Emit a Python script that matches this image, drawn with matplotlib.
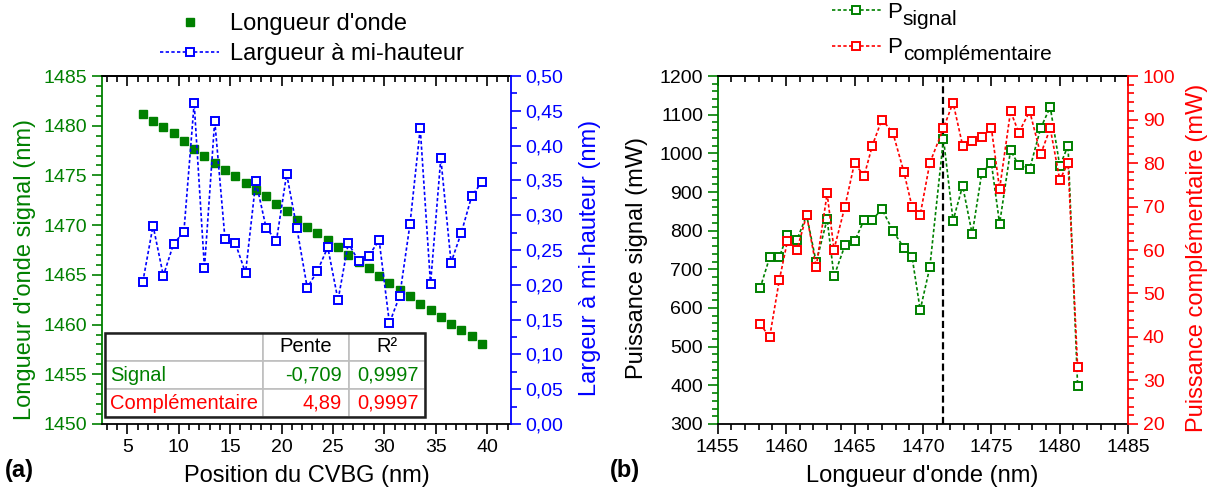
import matplotlib
matplotlib.use('Agg')
import matplotlib.pyplot as plt
from matplotlib.ticker import MultipleLocator, FuncFormatter
from matplotlib.lines import Line2D
from matplotlib.patches import Rectangle

plt.rcParams['font.family'] = ['Liberation Sans', 'DejaVu Sans']
plt.rcParams['mathtext.fontset'] = 'custom'
plt.rcParams['mathtext.rm'] = 'Liberation Sans'

GREEN = '#008000'
BLUE = '#0000FF'
RED = '#FF0000'

# ---------------- data, panel (a) ----------------
position_nm = [6.5, 7.5, 8.5, 9.5, 10.5, 11.5, 12.5, 13.5, 14.5, 15.5, 16.5, 17.5,
               18.5, 19.5, 20.5, 21.5, 22.5, 23.5, 24.5, 25.5, 26.5, 27.5, 28.5,
               29.5, 30.5, 31.5, 32.5, 33.5, 34.5, 35.5, 36.5, 37.5, 38.5, 39.5]
wavelength_signal = [1481.2, 1480.5, 1479.9, 1479.3, 1478.5, 1477.7, 1477.0, 1476.3,
                     1475.5, 1474.9, 1474.2, 1473.5, 1472.9, 1472.1, 1471.4, 1470.5,
                     1469.8, 1469.2, 1468.5, 1467.8, 1467.0, 1466.3, 1465.7, 1464.9,
                     1464.2, 1463.5, 1462.9, 1462.1, 1461.5, 1460.8, 1460.1, 1459.5,
                     1458.8, 1458.0]
fwhm = [0.204, 0.285, 0.213, 0.259, 0.276, 0.461, 0.224, 0.436, 0.266, 0.260, 0.217,
        0.349, 0.282, 0.263, 0.359, 0.281, 0.196, 0.220, 0.254, 0.178, 0.260, 0.234,
        0.242, 0.264, 0.145, 0.184, 0.287, 0.425, 0.201, 0.382, 0.232, 0.275, 0.327,
        0.348]

table_header = ['', 'Pente', 'R²']
table_rows = [['Signal', '-0,709', '0,9997'],
              ['Complémentaire', '4,89', '0,9997']]

# ---------------- data, panel (b) ----------------
wavelength_b = [1458.1, 1458.8, 1459.5, 1460.1, 1460.8, 1461.5, 1462.2, 1463.0, 1463.5,
                1464.3, 1465.0, 1465.7, 1466.3, 1467.0, 1467.8, 1468.6, 1469.2, 1469.8,
                1470.5, 1471.5, 1472.2, 1472.9, 1473.6, 1474.3, 1475.0, 1475.6, 1476.4,
                1477.0, 1477.8, 1478.6, 1479.3, 1480.0, 1480.6, 1481.3]
p_signal = [651, 731, 731, 790, 777, 840, 718, 830, 682, 762, 772, 828, 828, 856, 800,
            756, 733, 595, 705, 1038, 826, 916, 791, 950, 975, 818, 1008, 969, 960, 1065,
            1120, 967, 1020, 399]
p_compl = [43.0, 40.0, 53.0, 62.1, 60.1, 68.0, 56.1, 73.0, 60.1, 70.0, 80.0, 77.0, 84.0,
           90.0, 87.0, 78.0, 70.0, 68.1, 80.0, 88.0, 93.9, 84.0, 85.0, 86.0, 88.0, 74.0,
           91.9, 87.0, 91.9, 82.0, 88.0, 76.1, 80.0, 33.1]
lambda_marker = 1471.45

comma = FuncFormatter(lambda v, p: ('%.2f' % v).replace('.', ','))

TICK_FS = 14
LABEL_FS = 17

fig = plt.figure(figsize=(12.09, 4.93), dpi=100)
ax1 = fig.add_axes([0.0841, 0.1400, 0.3383, 0.7058])
ax2 = fig.add_axes([0.5936, 0.1400, 0.3396, 0.7058])

dash = (0, (2.0, 1.4))

# ---------- panel (a) ----------
ax1.plot(position_nm, wavelength_signal, ls='none', marker='s', ms=6.2,
         color=GREEN, mec=GREEN, zorder=2)
ax1.set_xlim(2.5, 42.3)
ax1.set_ylim(1450, 1485)
ax1r = ax1.twinx()
ax1r.plot(position_nm, fwhm, ls=dash, lw=1.2, color=BLUE, marker='s', ms=6,
          mfc='white', mec=BLUE, mew=1.4, zorder=3)
ax1r.set_ylim(0, 0.5)

ax1.spines['left'].set_color(GREEN)
ax1.spines['right'].set_visible(False)
ax1r.spines['right'].set_color(BLUE)
for s in ('left', 'top', 'bottom'):
    ax1r.spines[s].set_visible(False)
for a in (ax1, ax1r):
    for s in a.spines.values():
        s.set_linewidth(1.3)

ax1.xaxis.set_major_locator(MultipleLocator(5))
ax1.xaxis.set_minor_locator(MultipleLocator(1))
ax1.yaxis.set_major_locator(MultipleLocator(5))
ax1.yaxis.set_minor_locator(MultipleLocator(1))
ax1r.yaxis.set_major_locator(MultipleLocator(0.05))
ax1r.yaxis.set_minor_locator(MultipleLocator(0.025))
ax1r.yaxis.set_major_formatter(comma)

ax1.tick_params(axis='x', which='both', direction='out', top=False, labelsize=TICK_FS, width=1.2)
ax1.tick_params(axis='x', which='major', length=7)
ax1.tick_params(axis='x', which='minor', length=4)
ax1.tick_params(axis='y', which='both', direction='out', colors=GREEN, labelsize=TICK_FS,
                right=False, width=1.2)
ax1.tick_params(axis='y', which='major', length=7)
ax1.tick_params(axis='y', which='minor', length=4)
ax1r.tick_params(axis='y', which='both', direction='out', colors=BLUE, labelsize=TICK_FS, width=1.2)
ax1r.tick_params(axis='y', which='major', length=7)
ax1r.tick_params(axis='y', which='minor', length=4)

top1 = ax1.secondary_xaxis('top')
top1.xaxis.set_major_locator(MultipleLocator(5))
top1.xaxis.set_minor_locator(MultipleLocator(1))
top1.tick_params(axis='x', which='both', direction='in', labeltop=False, width=1.2)
top1.tick_params(axis='x', which='major', length=7)
top1.tick_params(axis='x', which='minor', length=4)
top1.spines['top'].set_linewidth(1.3)

ax1.set_xlabel('Position du CVBG (nm)', fontsize=LABEL_FS, va='center')
ax1.xaxis.set_label_coords(0.501, -0.149)
ax1.set_ylabel("Longueur d'onde signal (nm)", fontsize=LABEL_FS, color=GREEN, va='center')
ax1.yaxis.set_label_coords(-0.188, 0.443)
ax1r.set_ylabel('Largeur à mi-hauteur (nm)', fontsize=LABEL_FS, color=BLUE, va='center',
                rotation=90)
ax1r.yaxis.set_label_coords(1.194, 0.477)

# table
cell_text = [table_header] + table_rows
tbl = ax1r.table(cellText=cell_text, colWidths=[0.4947, 0.2688, 0.2366],
                 bbox=[0.008, 0.019, 0.782, 0.243], cellLoc='right')
tbl.auto_set_font_size(False)
tbl.set_fontsize(14.5)
tbl.set_zorder(6)
row_colors = ['black', GREEN, RED]
for (r, c), cell in tbl.get_celld().items():
    cell.set_edgecolor('#BFBFBF')
    cell.set_linewidth(1.2)
    cell.set_facecolor('white')
    txt = cell.get_text()
    txt.set_color(row_colors[r])
    if r == 0:
        cell._loc = 'center'
        txt.set_ha('center')
    elif c == 0:
        cell._loc = 'left'
        cell.PAD = 0.035
        txt.set_ha('left')
    else:
        cell.PAD = 0.08
ax1r.add_patch(Rectangle((0.008, 0.019), 0.782, 0.243, transform=ax1r.transAxes,
                         fill=False, ec='#202020', lw=1.8, zorder=7, clip_on=False))

h_wl = Line2D([], [], ls='none', marker='s', ms=6.2, color=GREEN, mec=GREEN)
h_fw = Line2D([], [], ls=dash, lw=1.2, color=BLUE, marker='s', ms=6, mfc='white',
              mec=BLUE, mew=1.4)
fig.legend([h_wl, h_fw], ["Longueur d'onde", 'Largueur à mi-hauteur'],
           loc='upper left', bbox_to_anchor=(160 / 1209, 1 - 13 / 493), frameon=False,
           fontsize=17, handlelength=2.5, handletextpad=0.45, labelspacing=0.35,
           borderpad=0, borderaxespad=0)

# ---------- panel (b) ----------
ax2.plot(wavelength_b, p_signal, ls=dash, lw=1.2, color=GREEN, marker='s', ms=6.2,
         mfc='white', mec=GREEN, mew=1.4, zorder=3)
ax2.set_xlim(1455, 1485)
ax2.set_ylim(300, 1200)
ax2.axvline(lambda_marker, color='black', ls=(0, (3.2, 1.6)), lw=1.6, zorder=2)
ax2r = ax2.twinx()
ax2r.plot(wavelength_b, p_compl, ls=dash, lw=1.2, color=RED, marker='s', ms=6.2,
          mfc='white', mec=RED, mew=1.4, zorder=3)
ax2r.set_ylim(20, 100)

ax2.spines['left'].set_color(GREEN)
ax2.spines['right'].set_visible(False)
ax2r.spines['right'].set_color(RED)
for s in ('left', 'top', 'bottom'):
    ax2r.spines[s].set_visible(False)
for a in (ax2, ax2r):
    for s in a.spines.values():
        s.set_linewidth(1.3)

ax2.xaxis.set_major_locator(MultipleLocator(5))
ax2.xaxis.set_minor_locator(MultipleLocator(1))
ax2.yaxis.set_major_locator(MultipleLocator(100))
ax2.yaxis.set_minor_locator(MultipleLocator(20))
ax2r.yaxis.set_major_locator(MultipleLocator(10))
ax2r.yaxis.set_minor_locator(MultipleLocator(2))

ax2.tick_params(axis='x', which='both', direction='out', top=False, labelsize=TICK_FS, width=1.2)
ax2.tick_params(axis='x', which='major', length=7)
ax2.tick_params(axis='x', which='minor', length=4)
ax2.tick_params(axis='y', which='both', direction='out', color=GREEN, labelcolor='black',
                labelsize=TICK_FS, right=False, width=1.2)
ax2.tick_params(axis='y', which='major', length=7)
ax2.tick_params(axis='y', which='minor', length=4)
ax2r.tick_params(axis='y', which='both', direction='out', colors=RED, labelsize=TICK_FS, width=1.2)
ax2r.tick_params(axis='y', which='major', length=7)
ax2r.tick_params(axis='y', which='minor', length=4)

top2 = ax2.secondary_xaxis('top')
top2.xaxis.set_major_locator(MultipleLocator(5))
top2.xaxis.set_minor_locator(MultipleLocator(1))
top2.tick_params(axis='x', which='both', direction='in', labeltop=False, width=1.2)
top2.tick_params(axis='x', which='major', length=7)
top2.tick_params(axis='x', which='minor', length=4)
top2.spines['top'].set_linewidth(1.3)

ax2.set_xlabel("Longueur d'onde (nm)", fontsize=LABEL_FS, va='center')
ax2.xaxis.set_label_coords(0.499, -0.149)
ax2.set_ylabel('Puissance signal (mW)', fontsize=LABEL_FS, color='black', va='center')
ax2.yaxis.set_label_coords(-0.197, 0.477)
ax2r.set_ylabel('Puissance complémentaire (mW)', fontsize=LABEL_FS, color=RED, va='center',
                rotation=90)
ax2r.yaxis.set_label_coords(1.168, 0.477)

h_s = Line2D([], [], ls=dash, lw=1.2, color=GREEN, marker='s', ms=6, mfc='white',
             mec=GREEN, mew=1.4)
h_c = Line2D([], [], ls=dash, lw=1.2, color=RED, marker='s', ms=6, mfc='white',
             mec=RED, mew=1.4)
leg2 = fig.legend([h_s, h_c], ['P', 'P'], loc='upper left',
                  bbox_to_anchor=(832 / 1209, 1 - 2 / 493), frameon=False,
                  fontsize=16, handlelength=2.2, handletextpad=0.3, labelspacing=0.65,
                  borderpad=0, borderaxespad=0)

fig.text(5 / 1209, 1 - 470 / 493, '(a)', fontsize=17, fontweight='bold', va='center')
fig.text(610 / 1209, 1 - 470 / 493, '(b)', fontsize=17, fontweight='bold', va='center')

fig.canvas.draw()
subs = ['signal', 'complémentaire']
W, H = fig.bbox.width, fig.bbox.height
for t, sub in zip(leg2.get_texts(), subs):
    bb = t.get_window_extent()
    fig.text((bb.x1 + 0.5) / W, (bb.y0 - 6) / H, sub, fontsize=15, va='bottom', ha='left')

fig.savefig('out.png', dpi=100)
